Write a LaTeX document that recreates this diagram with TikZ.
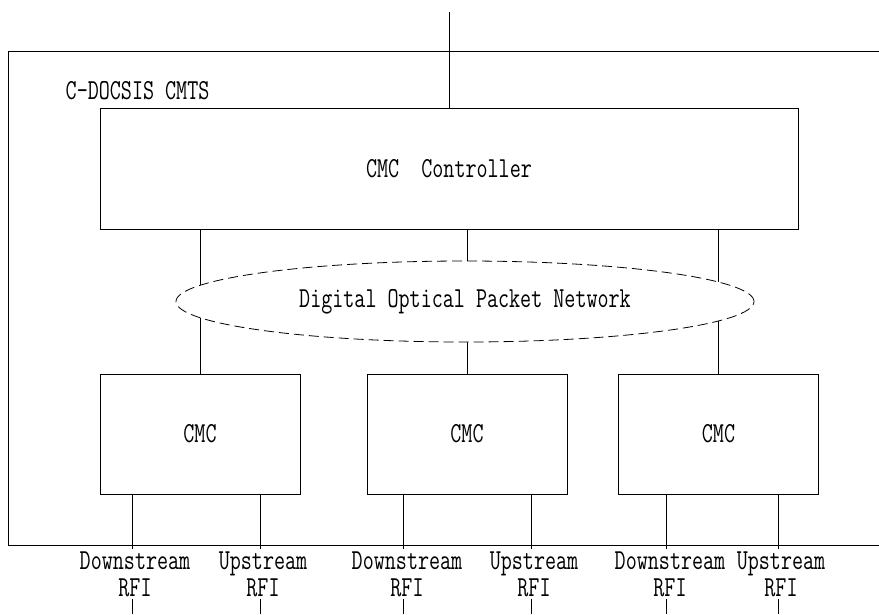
\documentclass[tikz,border=0pt]{standalone}
\usepackage{fontspec}
\usepackage{tikz}
\usetikzlibrary{shapes}
\usetikzlibrary{positioning}
\newfontfamily\simfont[FakeStretch=0.74]{Latin Modern Mono}

\begin{document}
\begin{tikzpicture}[x=1pt, y=-1pt, line width=0.8pt, font=\simfont\fontsize{29}{27}\selectfont,
  box/.style={draw, rectangle, minimum width=200pt, minimum height=120pt},
  port/.style={align=center, inner sep=2pt}]
\useasboundingbox (0,0) rectangle (879,614);
\clip (0,0) rectangle (879,614);
% outer CMTS frame
\draw (8,51) rectangle (900,545);
\node at (62,91) [anchor=west, name=CMTS]{C-DOCSIS CMTS};
\node at (449,168.5) [draw, name=Ctrl, rectangle, minimum width=698pt, minimum height=121pt]{CMC\ \ Controller};
\coordinate (Uplink) at (449,12);
\draw (Uplink) -- (Ctrl.north);
\node at (200,434) [box, name=CMCa]{CMC};
\node at (467,434) [box, name=CMCb]{CMC};
\node at (718.5,434) [box, name=CMCc]{CMC};
% links through the network
\draw (CMCa.north) -- (CMCa.north |- Ctrl.south);
\draw (CMCb.north) -- (CMCb.north |- Ctrl.south);
\draw (CMCc.north -| 718,0) -- (Ctrl.south -| 718,0);
\node at (465,301.5) [draw, dashed, dash pattern=on 10pt off 5pt, fill=white, ellipse, name=Net, minimum width=578pt, minimum height=81pt, inner sep=0pt]{Digital Optical Packet Network};
% RF interfaces
\node at (135,574) [port, name=dsA]{Downstream\\RFI};
\node at (263,574) [port, name=usA]{Upstream\\RFI};
\node at (407,574) [port, name=dsB]{Downstream\\RFI};
\node at (534,574) [port, name=usB]{Upstream\\RFI};
\node at (670,574) [port, name=dsC]{Downstream\\RFI};
\node at (781,574) [port, name=usC]{Upstream\\RFI};
\coordinate (dsAend) at (132,614);
\coordinate (usAend) at (260,614);
\coordinate (dsBend) at (403,614);
\coordinate (usBend) at (531,614);
\coordinate (dsCend) at (666,614);
\coordinate (usCend) at (778,614);
\foreach \p/\b in {dsA/CMCa, usA/CMCa, dsB/CMCb, usB/CMCb, dsC/CMCc, usC/CMCc}{
  \draw (\b.south -| \p end) -- (\p end |- \p.north);
  \draw (\p end |- \p.south) -- (\p end);
}
\end{tikzpicture}
\end{document}
